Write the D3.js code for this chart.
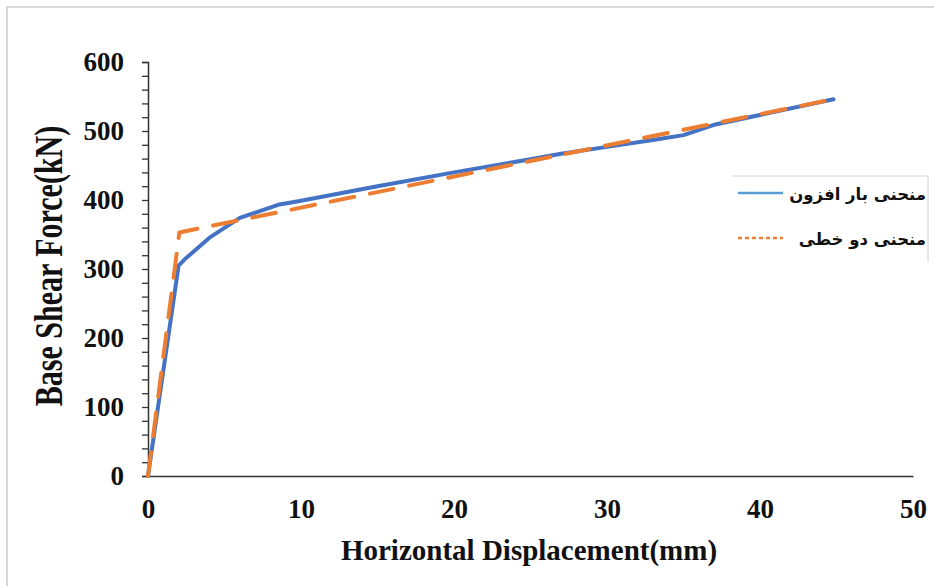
<!DOCTYPE html>
<html>
<head>
<meta charset="utf-8">
<script src="https://cdn.jsdelivr.net/npm/d3@7"></script>
<style>
  html, body { margin: 0; padding: 0; background: #fff; }
  svg { display: block; }
</style>
</head>
<body>
<svg id="chart" width="934" height="586"></svg>
<script>
// ---- data ----
const pushoverX = [0, 2.0, 2.4, 4, 6, 8.5, 10, 15, 20, 25, 27, 30, 33, 35, 37, 44.8];
const pushoverY = [0, 305, 314, 345, 374, 393, 399, 420, 440, 459, 467, 477, 487, 494, 509, 546];
const bilinearX = [0, 2.05, 44.8];
const bilinearY = [0, 353, 546];
const xTicks = [0, 10, 20, 30, 40, 50];
const yTicks = [0, 100, 200, 300, 400, 500, 600];
const yMinorTicks = d3.range(0, 601, 20);
const seriesNames = ["منحنی بار افزون", "منحنی دو خطی"];
const xTitle = "Horizontal Displacement(mm)";
const yTitle = "Base Shear Force(kN)";

const svg = d3.select("#chart");
const serif = "'Liberation Serif', 'Times New Roman', serif";

// outer frame (light gray)
svg.append("rect").attr("x", 7).attr("y", 7).attr("width", 940).attr("height", 590)
  .attr("fill", "none").attr("stroke", "#d9d9d9").attr("stroke-width", 2);

const x = d3.scaleLinear().domain([0, 50]).range([148, 913]);
const y = d3.scaleLinear().domain([0, 600]).range([476, 62]);

// y axis with minor ticks
const yAxisMinor = d3.axisLeft(y).tickValues(yMinorTicks).tickSize(6).tickFormat("");
const gyMinor = svg.append("g").attr("transform", `translate(${x(0)},0)`).call(yAxisMinor);
gyMinor.select(".domain").attr("stroke", "#333").attr("stroke-width", 1.5);
gyMinor.selectAll(".tick line").attr("stroke", "#333").attr("stroke-width", 1.3);

const yAxis = d3.axisLeft(y).tickValues(yTicks).tickSize(0).tickPadding(24).tickFormat(d3.format("d"));
const gy = svg.append("g").attr("transform", `translate(${x(0)},0)`).call(yAxis);
gy.select(".domain").remove();
gy.selectAll(".tick text").attr("font-family", serif).attr("font-weight", "bold")
  .attr("font-size", 27).attr("fill", "#111");

// x axis (no tick marks)
const xAxis = d3.axisBottom(x).tickValues(xTicks).tickSize(0).tickPadding(23).tickFormat(d3.format("d"));
const gx = svg.append("g").attr("transform", `translate(0,${y(0)})`).call(xAxis);
gx.select(".domain").attr("stroke", "#333").attr("stroke-width", 1.5);
gx.selectAll(".tick text").attr("font-family", serif).attr("font-weight", "bold")
  .attr("font-size", 27).attr("fill", "#111");

// axis titles
svg.append("text").attr("x", 529).attr("y", 560).attr("text-anchor", "middle")
  .attr("font-family", serif).attr("font-weight", "bold").attr("font-size", 29)
  .attr("fill", "#111").text(xTitle);
svg.append("text").attr("transform", "translate(62,266) scale(1.33,1) rotate(-90)").attr("text-anchor", "middle")
  .attr("font-family", serif).attr("font-weight", "bold").attr("font-size", 30)
  .attr("fill", "#111").text(yTitle);

// lines
const line = d3.line().x(d => x(d[0])).y(d => y(d[1]));
const pushover = pushoverX.map((v, i) => [v, pushoverY[i]]);
const bilinear = bilinearX.map((v, i) => [v, bilinearY[i]]);

svg.append("path").datum(pushover).attr("d", line).attr("fill", "none")
  .attr("stroke", "#4472C4").attr("stroke-width", 4).attr("stroke-linejoin", "round").attr("stroke-linecap", "round");
svg.append("path").datum(bilinear).attr("d", line).attr("fill", "none")
  .attr("stroke", "#ED7D31").attr("stroke-width", 4).attr("stroke-dasharray", "24 16")
  .attr("stroke-linecap", "round").attr("stroke-linejoin", "round");

// legend
const lg = svg.append("g");
lg.append("path").attr("d", "M732,176 H928 V262").attr("fill", "none").attr("stroke", "#d0d0d0").attr("stroke-width", 1);
const legendItems = [
  {name: seriesNames[0], color: "#5B9BD5", dash: null, y: 193},
  {name: seriesNames[1], color: "#ED7D31", dash: "4 3", y: 238}
];
legendItems.forEach(it => {
  const l = lg.append("line").attr("x1", 738).attr("x2", 783).attr("y1", it.y).attr("y2", it.y)
    .attr("stroke", it.color).attr("stroke-width", 2.5);
  if (it.dash) l.attr("stroke-dasharray", it.dash);
  lg.append("text").attr("x", 926).attr("y", it.y + 7).attr("text-anchor", "end")
    .attr("font-family", "'DejaVu Sans', 'Noto Sans', sans-serif").attr("font-weight", "bold")
    .attr("font-size", 16.5).attr("fill", "#111").text(it.name);
});
</script>
</body>
</html>
